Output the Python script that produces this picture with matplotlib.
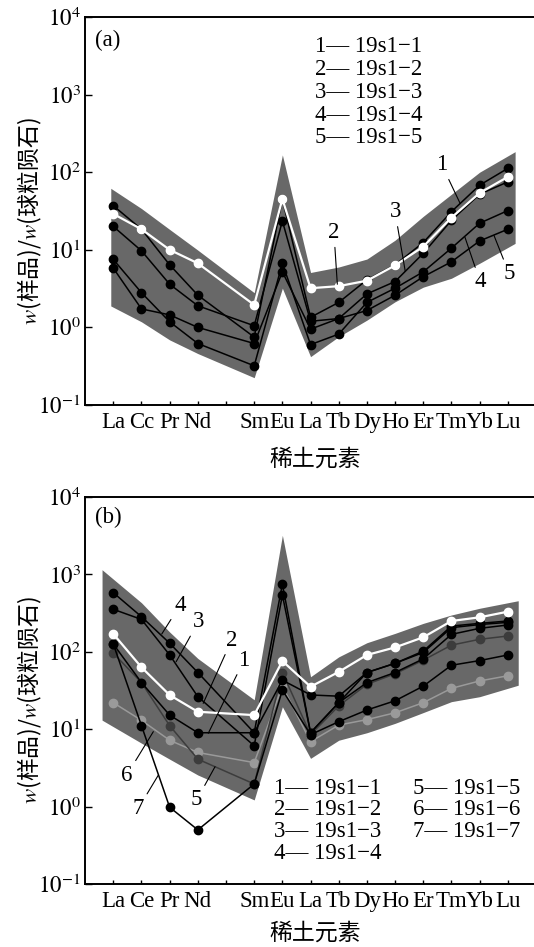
import matplotlib
matplotlib.use('Agg')
import matplotlib.pyplot as plt
import numpy as np

plt.rcParams['mathtext.fontset'] = 'stix'
plt.rcParams['font.family'] = ['Liberation Serif', 'DejaVu Serif']

# ---------------- data ----------------
slots_a = ['La', 'Cc', 'Pr', 'Nd', '', 'Sm', 'Eu', 'La', 'Tb', 'Dy', 'Ho', 'Er', 'Tm', 'Yb', 'Lu']
slots_b = ['La', 'Ce', 'Pr', 'Nd', '', 'Sm', 'Eu', 'La', 'Tb', 'Dy', 'Ho', 'Er', 'Tm', 'Yb', 'Lu']

# panel (a)
a1 = [37, 18.4, 6.4, 2.6, 0.75, 45, 1.35, 2.1, 4.1, 6.4, 12.4, 31, 68, 112]
a2 = [29, 18.4, 10, 6.7, 1.95, 45, 3.2, 3.4, 4.0, 6.3, 11, 26, 54, 87]
a3 = [20, 9.7, 3.6, 1.9, 1.05, 23.5, 1.2, 1.3, 2.7, 3.9, 9.0, 24, 52, 75]
a4 = [7.5, 2.8, 1.18, 0.62, 0.32, 6.7, 0.6, 0.82, 2.1, 3.2, 5.2, 10.5, 22, 32]
a5 = [5.8, 1.73, 1.45, 1.0, 0.62, 5.2, 0.95, 1.3, 1.65, 2.6, 4.5, 7.0, 13, 18.4]
env_a_upper = [62, 34, 18.3, 9.9, 2.8, 167, 5.1, 6.0, 7.6, 13.3, 27, 52, 100, 184]
env_a_lower = [1.89, 1.18, 0.69, 0.46, 0.225, 3.2, 0.42, 0.76, 1.24, 2.14, 3.3, 4.3, 6.7, 12.1]

# panel (b)
b1 = [126, 40, 15.2, 9.0, 9.0, 43, 27.7, 26.7, 54, 71, 102, 215, 233, 250]
b2 = [170, 63, 27.6, 16.8, 15.2, 76, 35.4, 55, 91, 114, 154, 250, 279, 330]
b3 = [354, 262, 91, 26.3, 6.1, 542, 9.0, 22, 40, 54, 81, 168, 201, 222]
b4 = [580, 284, 129, 54, 9.0, 751, 9.0, 22, 54, 71, 98, 205, 225, 240]
b5 = [96, 40, 11.1, 4.1, 1.96, 54, 8.5, 20, 38, 52, 78, 122, 145, 160]
b6 = [22, 13, 7.2, 5.0, 3.7, 36, 6.9, 11.3, 13.3, 16.3, 22, 33.7, 42, 49]
b7 = [126, 11.1, 0.98, 0.5, 1.96, 32, 8.5, 12.5, 17.7, 23.3, 36, 67, 77, 91]
env_b_upper = [1150, 430, 180, 82, 24, 3200, 47.6, 86, 131, 173, 233, 299, 365, 457]
env_b_lower = [13.1, 6.6, 4.1, 2.56, 1.22, 19.5, 4.2, 7.2, 9.0, 11.9, 16.4, 22.7, 26.3, 37]

legend_a = ['1— 19s1−1', '2— 19s1−2', '3— 19s1−3', '4— 19s1−4', '5— 19s1−5']
legend_b_left = ['1— 19s1−1', '2— 19s1−2', '3— 19s1−3', '4— 19s1−4']
legend_b_right = ['5— 19s1−5', '6— 19s1−6', '7— 19s1−7']

# ---------------- figure ----------------
W, H = 534, 947
fig = plt.figure(figsize=(W / 100, H / 100), dpi=100)

AX_L = 85
def axes_rect(top, bottom):
    return [AX_L / W, 1 - bottom / H, (W - AX_L) / W, (bottom - top) / H]

ENV = '#686868'
FS = 16.5
CJK_FS = 16.5

def style_axes(ax, slots):
    ax.set_yscale('log')
    ax.set_ylim(0.1, 1e4)
    ax.set_xlim(-1.005, 14.93)
    ax.set_xticks(range(len(slots)))
    ax.set_xticklabels(slots, fontsize=FS)
    ax.set_yticks([10.0 ** k for k in range(-1, 5)])
    ax.set_yticklabels([r'$10^{%d}$' % k for k in range(-1, 5)], fontsize=FS)
    ax.minorticks_off()
    ax.tick_params(axis='x', direction='in', length=3, width=1.0, pad=5)
    ax.tick_params(axis='y', direction='in', length=5, width=1.0, pad=3)
    for s in ['left', 'bottom', 'top']:
        ax.spines[s].set_linewidth(1.4)
    ax.spines['right'].set_visible(False)

def xpos(slots):
    return np.array([i for i, s in enumerate(slots) if s], dtype=float)

def envelope(ax, x, lo, up, pad_l, pad_r):
    xe = x.copy()
    xe[0] -= pad_l
    xe[-1] += pad_r
    ax.fill_between(xe, lo, up, color=ENV, lw=0, zorder=1)

def series(ax, x, y, color, lw=1.1, ms=6.0, z=3):
    ax.plot(x, y, '-o', color=color, mfc=color, mec=color,
            lw=lw, ms=ms, zorder=z)

def pointer(ax, label, xy, xytext):
    ax.annotate(label, xy=xy, xytext=xytext, textcoords='data', fontsize=FS,
                ha='center', va='center',
                arrowprops=dict(arrowstyle='-', lw=0.8, color='black',
                                shrinkA=1, shrinkB=0), zorder=6)

def ylabel(top, bottom):
    fig.text(30 / W, 1 - ((top + bottom) / 2 + 10) / H, '$w$(样品)/$w$(球粒陨石)',
             rotation=90, ha='center', va='center', rotation_mode='anchor',
             fontsize=16.5, family='Noto Sans CJK SC')

def xlabel(bottom, off):
    fig.text(315 / W, 1 - (bottom + off) / H, '稀土元素', ha='center', va='center',
             fontsize=CJK_FS, family='Noto Sans CJK SC')

# ---------- panel (a) ----------
TA, BA = 17, 405
axa = fig.add_axes(axes_rect(TA, BA))
xa = xpos(slots_a)
envelope(axa, xa, env_a_lower, env_a_upper, 0.09, 0.26)
for s in [a5, a4, a3, a1]:
    series(axa, xa, s, 'black')
series(axa, xa, a2, 'white', lw=1.6, z=4)
style_axes(axa, slots_a)
axa.text(0.022, 0.94, '(a)', transform=axa.transAxes, fontsize=FS, ha='left', va='center')
for i, t in enumerate(legend_a):
    axa.text(0.512, 0.923 - i * 0.0587, t, transform=axa.transAxes, fontsize=FS,
             ha='left', va='center')
pointer(axa, '1', (12.31, 39.5), (11.66, 124))
pointer(axa, '2', (7.95, 3.6), (7.83, 16.6))
pointer(axa, '3', (10.36, 5.3), (10.0, 30.7))
pointer(axa, '4', (12.48, 14.5), (13.02, 3.85))
pointer(axa, '5', (13.51, 15.3), (14.05, 4.92))
ylabel(TA, BA)
xlabel(BA, 54)

# ---------- panel (b) ----------
TB, BB = 497, 884
axb = fig.add_axes(axes_rect(TB, BB))
xb = xpos(slots_b)
envelope(axb, xb, env_b_lower, env_b_upper, 0.4, 0.37)
series(axb, xb, b6, '#9a9a9a', z=2)
series(axb, xb, b5, '#3c3c3c', z=3)
for s in [b7, b3, b4, b1]:
    series(axb, xb, s, 'black', z=3)
series(axb, xb, b2, 'white', lw=1.6, z=4)
style_axes(axb, slots_b)
axb.text(0.022, 0.946, '(b)', transform=axb.transAxes, fontsize=FS, ha='left', va='center')
for i, t in enumerate(legend_b_left):
    axb.text(0.421, 0.248 - i * 0.0562, t, transform=axb.transAxes, fontsize=FS,
             ha='left', va='center')
for i, t in enumerate(legend_b_right):
    axb.text(0.730, 0.248 - i * 0.0562, t, transform=axb.transAxes, fontsize=FS,
             ha='left', va='center')
pointer(axb, '4', (1.72, 170), (2.37, 402))
pointer(axb, '3', (2.23, 74.5), (3.02, 245))
pointer(axb, '2', (3.19, 21.6), (4.20, 142))
pointer(axb, '1', (3.37, 8.85), (4.64, 78))
pointer(axb, '6', (1.42, 9.3), (0.48, 2.56))
pointer(axb, '7', (1.60, 2.56), (0.89, 0.95))
pointer(axb, '5', (3.61, 3.28), (2.96, 1.22))
ylabel(TB, BB)
xlabel(BB, 49)

fig.savefig('out.png', dpi=100)
